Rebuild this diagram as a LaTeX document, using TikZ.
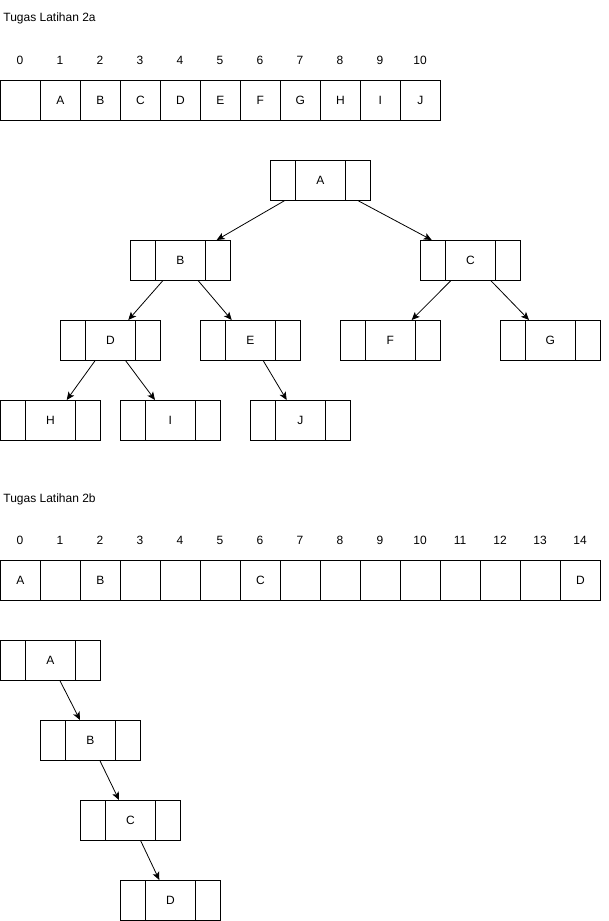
\documentclass[tikz,border=0pt]{standalone}
\usepackage{fontspec}
\setmainfont{Liberation Sans}
\usetikzlibrary{calc,arrows.meta}

\tikzset{
  cell/.style={draw, minimum width=40pt, minimum height=40pt, inner sep=0pt, anchor=north west},
  idx/.style={inner sep=0pt},
  title/.style={inner sep=0pt, anchor=west},
  tnode/.style={draw, minimum width=100pt, minimum height=40pt, inner sep=0pt, anchor=north west,
    path picture={
      \draw ([xshift=25pt]path picture bounding box.south west) -- ([xshift=25pt]path picture bounding box.north west);
      \draw ([xshift=-25pt]path picture bounding box.south east) -- ([xshift=-25pt]path picture bounding box.north east);
    }},
  ptr/.style={-{Stealth[length=8pt,width=7pt,inset=2pt]}},
}

\begin{document}
\begin{tikzpicture}[x=1pt, y=-1pt, line width=0.8pt, font=\fontsize{12}{14}\selectfont]
  \useasboundingbox (0,0) rectangle (609,921);

  % Tugas Latihan 2a
  \node[title] (titleA) at (3,18) {Tugas Latihan 2a};
  \foreach \i/\t in {0/,1/A,2/B,3/C,4/D,5/E,6/F,7/G,8/H,9/I,10/J} {
    \node[idx] (ia\i) at ({40*\i+20},60) {\i};
    \node[cell] (a\i) at ({40*\i},80) {\t};
  }

  % tree 2a
  \node[tnode] (tA) at (270,160) {A};
  \node[tnode] (tB) at (130,240) {B};
  \node[tnode] (tC) at (420,240) {C};
  \node[tnode] (tD) at (60,320) {D};
  \node[tnode] (tE) at (200,320) {E};
  \node[tnode] (tF) at (340,320) {F};
  \node[tnode] (tG) at (500,320) {G};
  \node[tnode] (tH) at (0,400) {H};
  \node[tnode] (tI) at (120,400) {I};
  \node[tnode] (tJ) at (250,400) {J};

  \draw[ptr] ([xshift=14.3pt]tA.south west) -- ([xshift=86.7pt]tB.north west);
  \draw[ptr] ([xshift=88.3pt]tA.south west) -- ([xshift=11.7pt]tC.north west);
  \draw[ptr] ([xshift=32.7pt]tB.south west) -- ([xshift=68.3pt]tD.north west);
  \draw[ptr] ([xshift=68.3pt]tB.south west) -- ([xshift=31.7pt]tE.north west);
  \draw[ptr] ([xshift=30.7pt]tC.south west) -- ([xshift=71.7pt]tF.north west);
  \draw[ptr] ([xshift=71pt]tC.south west) -- ([xshift=29pt]tG.north west);
  \draw[ptr] ([xshift=35pt]tD.south west) -- ([xshift=66.7pt]tH.north west);
  \draw[ptr] ([xshift=65.7pt]tD.south west) -- ([xshift=35pt]tI.north west);
  \draw[ptr] ([xshift=63.3pt]tE.south west) -- ([xshift=36.7pt]tJ.north west);

  % Tugas Latihan 2b
  \node[title] (titleB) at (3,499) {Tugas Latihan 2b};
  \foreach \i/\t in {0/A,1/,2/B,3/,4/,5/,6/C,7/,8/,9/,10/,11/,12/,13/,14/D} {
    \node[idx] (ib\i) at ({40*\i+20},540) {\i};
    \node[cell] (b\i) at ({40*\i},560) {\t};
  }

  % tree 2b
  \node[tnode] (uA) at (0,640) {A};
  \node[tnode] (uB) at (40,720) {B};
  \node[tnode] (uC) at (80,800) {C};
  \node[tnode] (uD) at (120,880) {D};

  \draw[ptr] ([xshift=60pt]uA.south west) -- ([xshift=40pt]uB.north west);
  \draw[ptr] ([xshift=60pt]uB.south west) -- ([xshift=39pt]uC.north west);
  \draw[ptr] ([xshift=60.7pt]uC.south west) -- ([xshift=39.3pt]uD.north west);
\end{tikzpicture}
\end{document}
